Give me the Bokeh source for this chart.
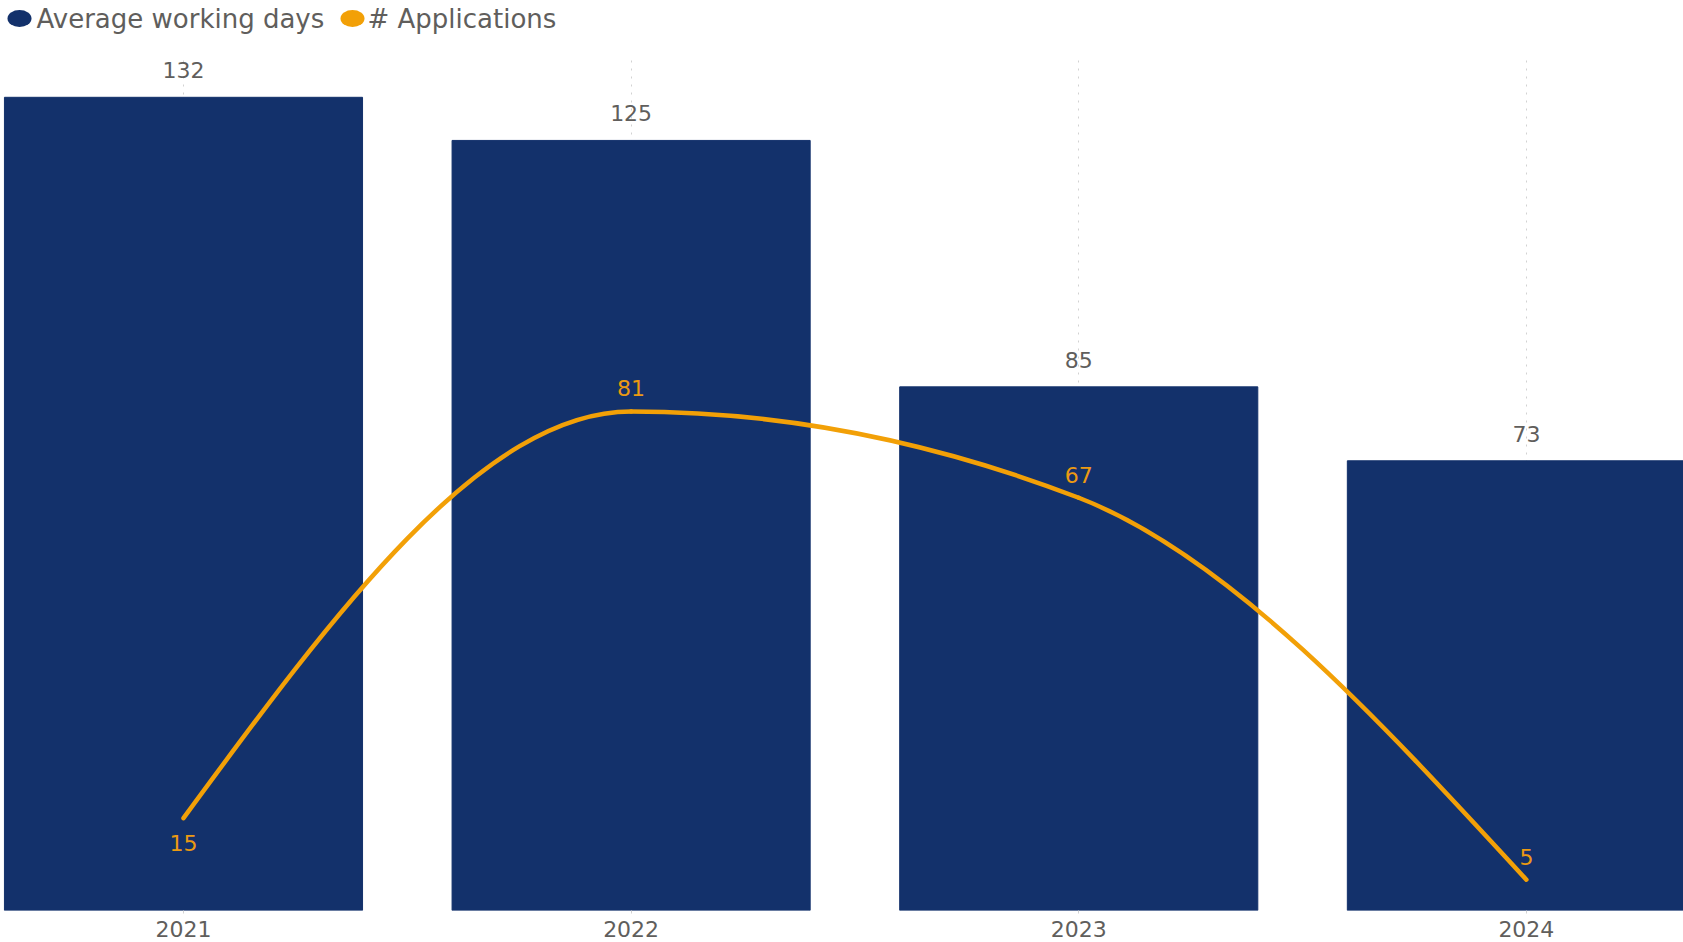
import numpy as np
from bokeh.plotting import figure
from bokeh.layouts import column
from bokeh.models import ColumnDataSource, Range1d, FixedTicker
from bokeh.core.properties import value
from bokeh.embed import file_html
from bokeh.resources import INLINE

# ---------------- data ----------------
years = ["2021", "2022", "2023", "2024"]
avg_working_days = [132, 125, 85, 73]
applications = [15, 81, 67, 5]
series_names = ["Average working days", "# Applications"]

# ---------------- style ----------------
BLUE = "#13316B"
ORANGE = "#F2A007"
ORANGE_TXT = "#EC9A12"
GRAY = "#605E5C"
GRID = "#D2D2D2"
FONT = "DejaVu Sans"
W = 1683
LEG_H = 58

xpos = list(range(len(years)))
src = ColumnDataSource(dict(
    x=xpos,
    days=avg_working_days,
    apps=applications,
    days_txt=[str(v) for v in avg_working_days],
    apps_txt=[str(v) for v in applications],
    apps_off=[25 if i == 0 else -23 for i in range(len(applications))],
))

# ---------------- legend strip (pixel coordinates) ----------------
leg = figure(frame_width=W, frame_height=LEG_H, min_border=0,
             x_range=Range1d(0, W), y_range=Range1d(LEG_H, 0),
             x_axis_location=None, y_axis_location=None,
             output_backend="svg", toolbar_location=None)
leg.outline_line_color = None
leg.grid.visible = False
leg_src = ColumnDataSource(dict(
    mx=[19, 352], my=[18, 18], tx=[36, 367], ty=[18, 18],
    name=series_names, col=[BLUE, ORANGE],
))
leg.ellipse(x="mx", y="my", width=24, height=17, source=leg_src,
            fill_color="col", line_color=None)
leg.text(x="tx", y="ty", text="name", source=leg_src,
         text_baseline="middle", text_align="left",
         text_font=value(FONT), text_font_size="26px", text_color=GRAY)

# ---------------- main chart ----------------
p = figure(frame_width=W, frame_height=852,
           min_border_top=0, min_border_bottom=32,
           min_border_left=0, min_border_right=0,
           x_range=Range1d(-0.4088, 3.351), y_range=Range1d(0, 138.3),
           y_axis_location=None,
           output_backend="svg", toolbar_location=None)
p.outline_line_color = None
p.background_fill_color = "white"
p.border_fill_color = "white"

# grid
p.ygrid.grid_line_color = None
p.xgrid.ticker = FixedTicker(ticks=xpos)
p.xgrid.grid_line_color = GRID
p.xgrid.grid_line_dash = "2 6"
p.xgrid.grid_line_width = 1

# x axis
ax = p.xaxis[0]
ax.ticker = FixedTicker(ticks=xpos)
ax.major_label_overrides = {i: y for i, y in enumerate(years)}
ax.axis_line_color = None
ax.major_tick_in = 0
ax.major_tick_out = 3
ax.major_tick_line_color = GRID
ax.minor_tick_line_color = None
ax.major_label_standoff = 7
ax.major_label_text_font = FONT
ax.major_label_text_font_size = "22px"
ax.major_label_text_color = GRAY

# bars
p.vbar(x="x", top="days", width=0.8, source=src, fill_color=BLUE, line_color=BLUE, line_width=1)

# smooth line (monotone cubic through the data points, drawn as bezier segments)
xs = np.array(xpos, dtype=float)
ys = np.array(applications, dtype=float)
h = np.diff(xs)
s = np.diff(ys) / h
m = np.zeros_like(ys)
for i in range(1, len(ys) - 1):
    if s[i - 1] * s[i] <= 0:
        m[i] = 0.0
    else:
        pp = (s[i - 1] * h[i] + s[i] * h[i - 1]) / (h[i - 1] + h[i])
        m[i] = (np.sign(s[i - 1]) + np.sign(s[i])) * min(abs(s[i - 1]), abs(s[i]), 0.5 * abs(pp))
m[0] = (3 * s[0] - m[1]) / 2
m[-1] = (3 * s[-1] - m[-2]) / 2
bz = ColumnDataSource(dict(
    x0=xs[:-1], y0=ys[:-1], x1=xs[1:], y1=ys[1:],
    cx0=xs[:-1] + h / 3, cy0=ys[:-1] + m[:-1] * h / 3,
    cx1=xs[1:] - h / 3, cy1=ys[1:] - m[1:] * h / 3,
))
p.bezier(x0="x0", y0="y0", x1="x1", y1="y1", cx0="cx0", cy0="cy0", cx1="cx1", cy1="cy1",
         source=bz, line_color=ORANGE, line_width=4.5, line_cap="round")

# data labels
p.text(x="x", y="days", text="days_txt", source=src, y_offset=-27,
       text_align="center", text_baseline="middle",
       text_font=value(FONT), text_font_size="22px", text_color=GRAY)
p.text(x="x", y="apps", text="apps_txt", source=src, y_offset="apps_off",
       text_align="center", text_baseline="middle",
       text_font=value(FONT), text_font_size="22px", text_color=ORANGE_TXT)

layout = column(leg, p, spacing=0)
open("out.html", "w").write(file_html(layout, INLINE))
